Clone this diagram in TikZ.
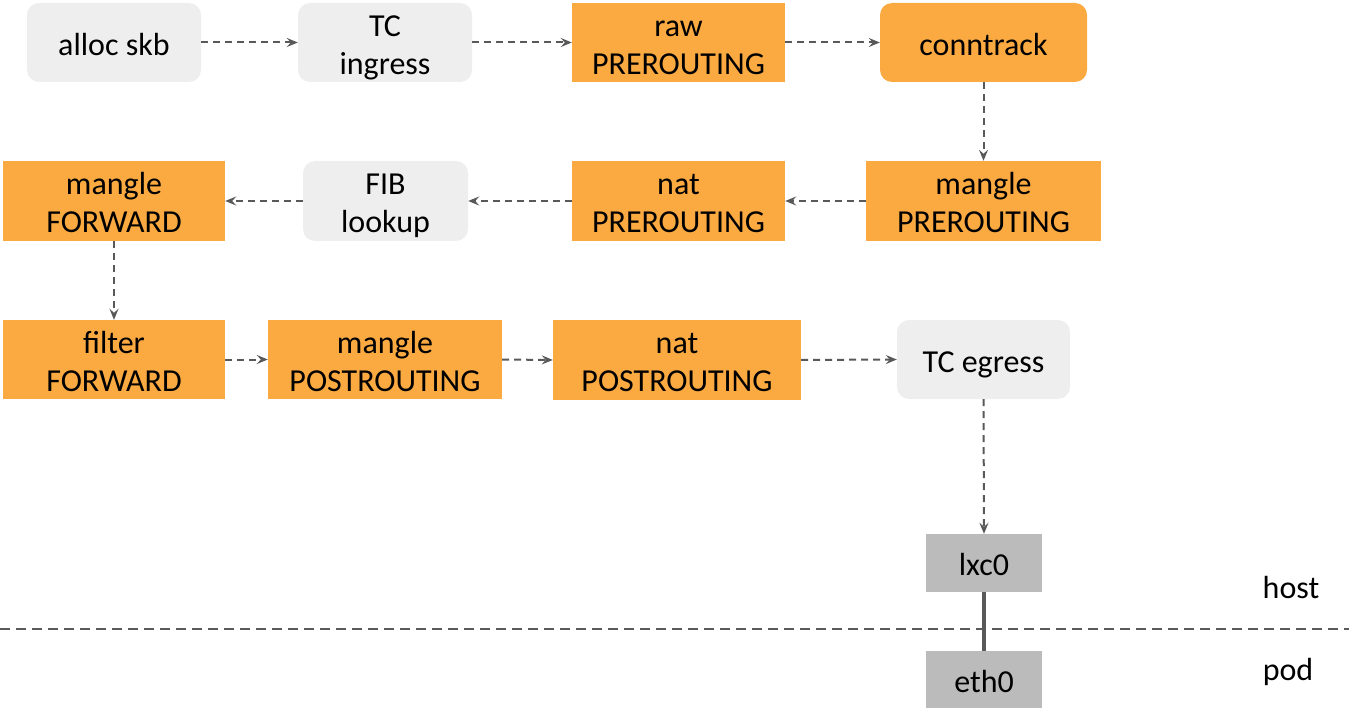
\documentclass[tikz,border=0pt]{standalone}
\usepackage{fontspec}
\setmainfont{Carlito}
\usetikzlibrary{arrows.meta}
\definecolor{hookorange}{HTML}{FBAA42}
\definecolor{stagegray}{HTML}{EEEEEE}
\definecolor{ifacegray}{HTML}{BBBBBB}
\definecolor{flowgray}{HTML}{595959}
% label text, set a little below the geometric centre of its box
\newcommand\boxtext[1]{\raisebox{-5pt}[\height][\depth]{\begin{tabular}{@{}c@{}}#1\end{tabular}}}
\tikzset{
  box/.style={inner sep=0pt, font=\fontsize{32}{38}\selectfont, text=black},
  hook/.style={box, fill=hookorange},
  stage/.style={box, fill=stagegray, rounded corners=12pt},
  hookround/.style={box, fill=hookorange, rounded corners=12pt},
  iface/.style={box, fill=ifacegray},
  flow/.style={draw=flowgray, line width=2pt, dash pattern=on 7pt off 5pt,
    -{Stealth[length=11pt, width=9pt, inset=4pt]}},
  link/.style={draw=flowgray, line width=4pt},
  divider/.style={draw=flowgray, line width=1.5pt, dash pattern=on 10pt off 6pt},
  zone/.style={font=\fontsize{32}{38}\selectfont, text=black}
}
\begin{document}
\begin{tikzpicture}[x=1pt, y=-1pt]
  \useasboundingbox (0,0) rectangle (1349,711);

  % row 1
  \node[stage, minimum width=174pt, minimum height=79pt] (alloc) at (114,42.5) {\boxtext{alloc skb}};
  \node[stage, minimum width=174pt, minimum height=79pt] (tcin) at (385,42.5) {\boxtext{TC\\ingress}};
  \node[hook, minimum width=213pt, minimum height=79pt] (rawpre) at (678.5,42.5) {\boxtext{raw\\PREROUTING}};
  \node[hookround, minimum width=207pt, minimum height=79pt] (ct) at (983.5,42.5) {\boxtext{conntrack}};

  % row 2
  \node[hook, minimum width=235pt, minimum height=80pt] (manglepre) at (983.5,201) {\boxtext{mangle\\PREROUTING}};
  \node[hook, minimum width=213pt, minimum height=80pt] (natpre) at (678.5,201) {\boxtext{nat\\PREROUTING}};
  \node[stage, minimum width=165pt, minimum height=80pt] (fib) at (385.5,201) {\boxtext{FIB\\lookup}};
  \node[hook, minimum width=222pt, minimum height=80pt] (manglefwd) at (114,201) {\boxtext{mangle\\FORWARD}};

  % row 3
  \node[hook, minimum width=222pt, minimum height=79pt] (filterfwd) at (114,359.5) {\boxtext{filter\\FORWARD}};
  \node[hook, minimum width=234pt, minimum height=79pt] (manglepost) at (385,359.5) {\boxtext{mangle\\POSTROUTING}};
  \node[hook, minimum width=248pt, minimum height=80pt] (natpost) at (677,360) {\boxtext{nat\\POSTROUTING}};
  \node[stage, minimum width=173pt, minimum height=79pt] (tceg) at (983.5,359.5) {\boxtext{TC egress}};

  % veth pair
  \node[iface, minimum width=116pt, minimum height=58pt] (lxc) at (984,563) {\boxtext{lxc0}};
  \node[iface, minimum width=116pt, minimum height=57pt] (eth) at (984,679.5) {\boxtext{eth0}};

  % namespace boundary
  \coordinate (bl) at (0,629);
  \coordinate (br) at (1349,629);
  \draw[divider] (bl) -- (br);
  \node[zone] (host) at (1291,588) {host};
  \node[zone] (pod) at (1288,672) {pod};
  \draw[link] (lxc.south) -- (eth.north);

  % packet path
  \draw[flow] (alloc.east) -- (tcin.west);
  \draw[flow] (tcin.east) -- (rawpre.west);
  \draw[flow] (rawpre.east) -- (ct.west);
  \draw[flow] (ct.south) -- (manglepre.north);
  \draw[flow] (manglepre.west) -- (natpre.east);
  \draw[flow] (natpre.west) -- (fib.east);
  \draw[flow] (fib.west) -- (manglefwd.east);
  \draw[flow] (manglefwd.south) -- (filterfwd.north);
  \draw[flow] (filterfwd.east) -- (manglepost.west);
  \draw[flow] (manglepost.east) -- (natpost.west);
  \draw[flow] (natpost.east) -- (tceg.west);
  \draw[flow] (tceg.south) -- (lxc.north);
\end{tikzpicture}
\end{document}
